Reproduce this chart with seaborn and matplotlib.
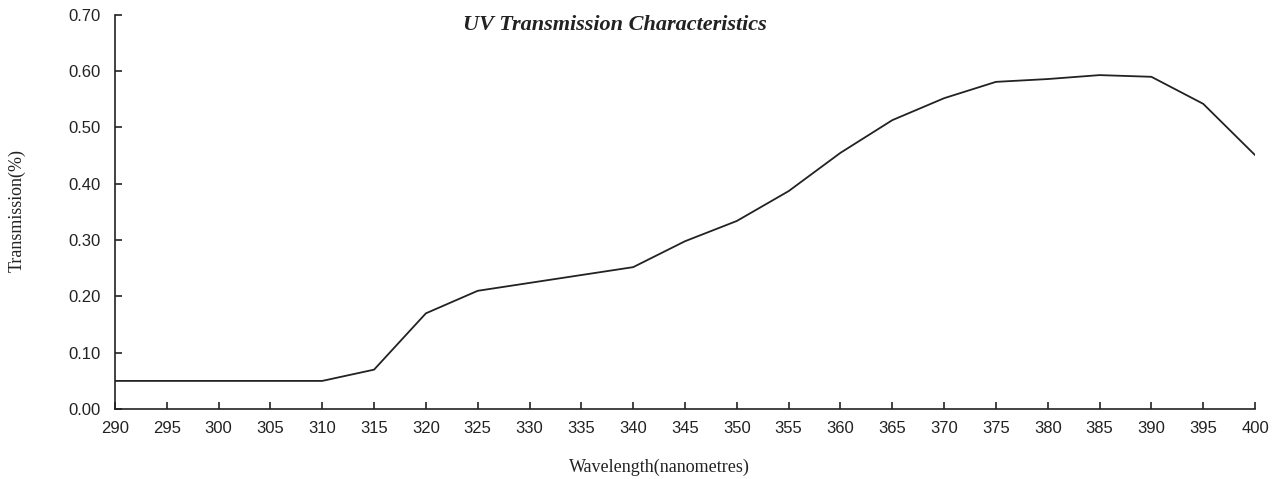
import matplotlib
matplotlib.use("Agg")
import matplotlib.pyplot as plt
import seaborn as sns
import pandas as pd

wavelength = [290, 295, 300, 305, 310, 315, 320, 325, 330, 335, 340, 345, 350,
              355, 360, 365, 370, 375, 380, 385, 390, 395, 400]
transmission = [0.05, 0.05, 0.05, 0.05, 0.05, 0.07, 0.17, 0.21, 0.224, 0.238, 0.252,
                0.298, 0.334, 0.387, 0.455, 0.513, 0.552, 0.581, 0.586, 0.593, 0.590,
                0.542, 0.451]
yticks = [0.0, 0.1, 0.2, 0.3, 0.4, 0.5, 0.6, 0.7]

sns.set_theme(style="ticks")
plt.rcParams['font.family'] = ['Liberation Sans', 'DejaVu Sans']

df = pd.DataFrame({"Wavelength": wavelength, "Transmission": transmission})

fig = plt.figure(figsize=(12.83, 4.79), dpi=100)
ax = fig.add_axes([0.0896, 0.146, 0.8886, 0.823])
sns.lineplot(data=df, x="Wavelength", y="Transmission", ax=ax, color="#222222", linewidth=1.3)

ax.set_xlim(290, 400)
ax.set_ylim(0, 0.70)
ax.set_xticks(wavelength)
ax.set_yticks(yticks)
ax.set_yticklabels([f"{v:.2f}" for v in yticks])
ax.tick_params(axis="both", direction="in", length=5, width=1.2, labelsize=12, colors="#222222")
ax.tick_params(axis="x", pad=8.5)
ax.tick_params(axis="y", pad=10.5)
for s in ["top", "right"]:
    ax.spines[s].set_visible(False)
for s in ["left", "bottom"]:
    ax.spines[s].set_linewidth(1.2)
    ax.spines[s].set_color("#222222")

ax.set_xlabel("")
ax.set_ylabel("")
fig.text(0.514, 1 - 467 / 479, "Wavelength(nanometres)", family="Liberation Serif", fontsize=13,
         ha="center", va="center", color="#222222")
fig.text(0.013, 1 - 210 / 479, "Transmission(%)", family="Liberation Serif", fontsize=13,
         ha="center", va="center", rotation=90, color="#222222")
fig.text(615 / 1283, 1 - 25 / 479, "UV Transmission Characteristics", family="Liberation Serif",
         fontsize=16, fontweight="bold", fontstyle="italic", ha="center", va="center", color="#222222")

fig.savefig("out.png", dpi=100)
